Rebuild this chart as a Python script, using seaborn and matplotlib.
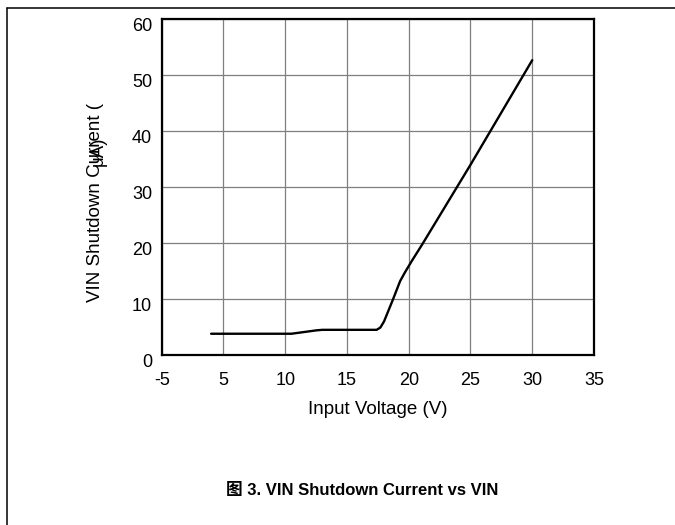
import seaborn as sns
import matplotlib.pyplot as plt
import matplotlib.transforms as mtransforms
from matplotlib.lines import Line2D

# curve
voltage = [4, 10.5, 12.5, 13, 17.4, 17.7, 18.0, 18.7, 19.0, 19.3, 19.7, 20.3, 21.1, 25, 30]
current = [3.8, 3.8, 4.4, 4.5, 4.5, 4.9, 6.0, 9.8, 11.5, 13.2, 14.8, 17.0, 19.8, 34.0, 52.7]

x_ticks = [0, 5, 10, 15, 20, 25, 30, 35]
x_tick_labels = ["-5", "5", "10", "15", "20", "25", "30", "35"]
y_ticks = [0, 10, 20, 30, 40, 50, 60]

sns.set_style("white")
plt.rcParams['font.family'] = ['Liberation Sans', 'Noto Sans CJK SC', 'DejaVu Sans']
plt.rcParams['text.color'] = 'black'
plt.rcParams['xtick.color'] = 'black'
plt.rcParams['ytick.color'] = 'black'

fig = plt.figure(figsize=(6.75, 5.25), dpi=100)
ax = fig.add_axes([0.2396, 0.3238, 0.6404, 0.6394])

sns.lineplot(x=voltage, y=current, color='black', linewidth=1.7, ax=ax)

ax.set_xlim(0, 35)
ax.set_ylim(0, 60)
ax.set_xticks(x_ticks)
ax.set_xticklabels(x_tick_labels)
ax.set_yticks(y_ticks)
ax.grid(True, color='#7f7f7f', linewidth=0.9)
ax.tick_params(axis='x', length=0, pad=12, labelsize=13)
ax.tick_params(axis='y', length=0, pad=7, labelsize=13)
# y labels sit a little below their grid lines in the reference
shift = mtransforms.ScaledTranslation(0, -5/100, fig.dpi_scale_trans)
for lab in ax.get_yticklabels():
    lab.set_transform(lab.get_transform() + shift)
for s in ax.spines.values():
    s.set_color('black')
    s.set_linewidth(1.6)

fig.text(378/675, 1-410/525, "Input Voltage (V)", ha='center', va='center', fontsize=13.5)
fig.text(95/675, 1-202/525, "VIN Shutdown Current (", rotation=90, ha='center', va='center', fontsize=13.5)
fig.text(98/675, 1-151/525, "μA)", rotation=90, ha='center', va='center', fontsize=13.5)
fig.text(362/675, 1-491/525, "图 3. VIN Shutdown Current vs VIN", ha='center', va='center',
         fontsize=12, fontweight='bold')

# page frame lines
fig.add_artist(Line2D([7.3/675, 1], [1-7.7/525, 1-7.7/525], color='black', linewidth=1.1))
fig.add_artist(Line2D([7.3/675, 7.3/675], [0, 1-7.7/525], color='black', linewidth=1.1))

fig.savefig("out.png", dpi=100)
